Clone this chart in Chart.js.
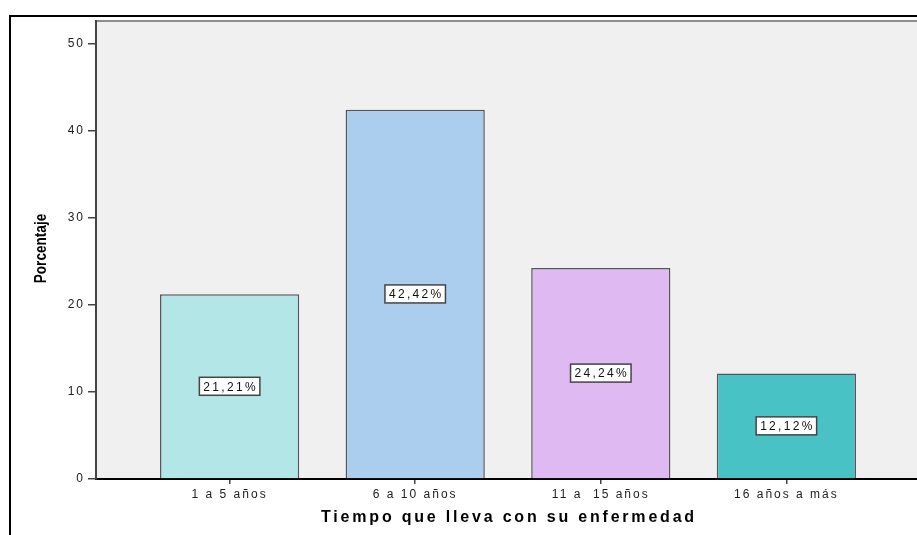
<!DOCTYPE html>
<html>
<head>
<meta charset="utf-8">
<script src="https://cdn.jsdelivr.net/npm/chart.js@4/dist/chart.umd.min.js"></script>
<style>
  html, body { margin: 0; padding: 0; background: #fff; overflow: hidden; width: 917px; height: 535px; }
  #frame { position: absolute; left: 9px; top: 15px; width: 960px; height: 560px; border-left: 2px solid #000; border-top: 2px solid #000; }
  #wrap { position: absolute; left: 0; top: 0; width: 940px; height: 535px; }
</style>
</head>
<body>
<div id="frame"></div>
<div id="wrap"><canvas id="chart" width="940" height="535"></canvas></div>
<script>
const categories = ['1 a 5 años', '6 a 10 años', '11 a  15 años', '16 años a más'];
const percentages = [21.21, 42.42, 24.24, 12.12];
const valueLabels = ['21,21%', '42,42%', '24,24%', '12,12%'];
const barColors = ['#b3e6e6', '#abcdee', '#dfb9f2', '#48c2c5'];
const yTicks = [0, 10, 20, 30, 40, 50];
const xTitle = 'Tiempo que lleva con su enfermedad';
const yTitle = 'Porcentaje';

const SANS = "'Liberation Sans', Arial, sans-serif";

// grey plot panel, value boxes and the two axis titles
const spssLook = {
  id: 'spssLook',
  beforeDraw(chart) {
    const { ctx, chartArea: a } = chart;
    ctx.save();
    ctx.fillStyle = '#f0f0f0';
    ctx.fillRect(a.left, a.top, a.right - a.left, a.bottom - a.top);
    ctx.strokeStyle = '#8c8c8c';
    ctx.lineWidth = 2;
    ctx.beginPath();
    ctx.moveTo(a.left, a.top);
    ctx.lineTo(a.right, a.top);
    ctx.stroke();
    ctx.restore();
    ctx.letterSpacing = '2px';
  },
  afterDatasetsDraw(chart) {
    const ctx = chart.ctx;
    const meta = chart.getDatasetMeta(0);
    ctx.save();
    ctx.font = '12px ' + SANS;
    ctx.letterSpacing = '2.3px';
    ctx.textAlign = 'center';
    ctx.textBaseline = 'middle';
    meta.data.forEach((bar, i) => {
      const mid = (bar.y + bar.base) / 2;
      const w = ctx.measureText(valueLabels[i]).width + 6;
      const h = 18;
      ctx.fillStyle = '#fff';
      ctx.fillRect(bar.x - w / 2, mid - h / 2, w, h);
      ctx.strokeStyle = '#444';
      ctx.lineWidth = 1.5;
      ctx.strokeRect(bar.x - w / 2, mid - h / 2, w, h);
      ctx.fillStyle = '#111';
      ctx.fillText(valueLabels[i], bar.x + 1, mid + 1);
    });
    ctx.restore();
  },
  afterDraw(chart) {
    const { ctx, chartArea: a } = chart;
    ctx.save();
    ctx.fillStyle = '#000';
    ctx.textAlign = 'center';
    ctx.textBaseline = 'middle';
    ctx.font = 'bold 16px ' + SANS;
    ctx.letterSpacing = '2.8px';
    ctx.fillText(xTitle, (a.left + a.right) / 2 + 1, 518);
    ctx.translate(42, (a.top + a.bottom) / 2 - 1.5);
    ctx.rotate(-Math.PI / 2);
    ctx.scale(0.85, 1);
    ctx.font = 'bold 16px ' + SANS;
    ctx.letterSpacing = '0px';
    ctx.fillText(yTitle, 0, 0);
    ctx.restore();
  }
};

const ctx = document.getElementById('chart').getContext('2d');
new Chart(ctx, {
  type: 'bar',
  data: {
    datasets: [{
      data: percentages.map((v, i) => ({ x: i, y: v })),
      backgroundColor: barColors,
      borderColor: '#555',
      borderWidth: 1.5,
      borderSkipped: 'bottom',
      categoryPercentage: 1,
      barPercentage: 0.75
    }]
  },
  options: {
    responsive: false,
    animation: false,
    devicePixelRatio: 1,
    layout: { padding: { top: 21, right: 20, left: 0, bottom: 0 } },
    plugins: { legend: { display: false }, tooltip: { enabled: false } },
    scales: {
      x: {
        type: 'linear',
        offset: false,
        min: -0.72,
        max: 3.72,
        afterBuildTicks: (s) => { s.ticks = categories.map((c, i) => ({ value: i })); },
        afterFit: (s) => { s.height = 56; },
        grid: { offset: false, drawOnChartArea: false, drawTicks: true, tickLength: 5, color: '#444', lineWidth: 1.5 },
        border: { display: true, color: '#000', width: 2 },
        ticks: {
          callback: (v) => categories[v],
          font: { family: SANS, size: 12 },
          color: '#222',
          padding: 3,
          maxRotation: 0,
          autoSkip: false
        }
      },
      y: {
        min: 0,
        max: 52.6,
        afterBuildTicks: (s) => { s.ticks = yTicks.map(v => ({ value: v })); },
        afterFit: (s) => { s.width = 96; },
        grid: { drawOnChartArea: false, drawTicks: true, tickLength: 8, color: '#444', lineWidth: 1.5 },
        border: { display: true, color: '#444', width: 2 },
        ticks: {
          font: { family: SANS, size: 12 },
          color: '#222',
          padding: 3
        }
      }
    }
  },
  plugins: [spssLook]
});
</script>
</body>
</html>
